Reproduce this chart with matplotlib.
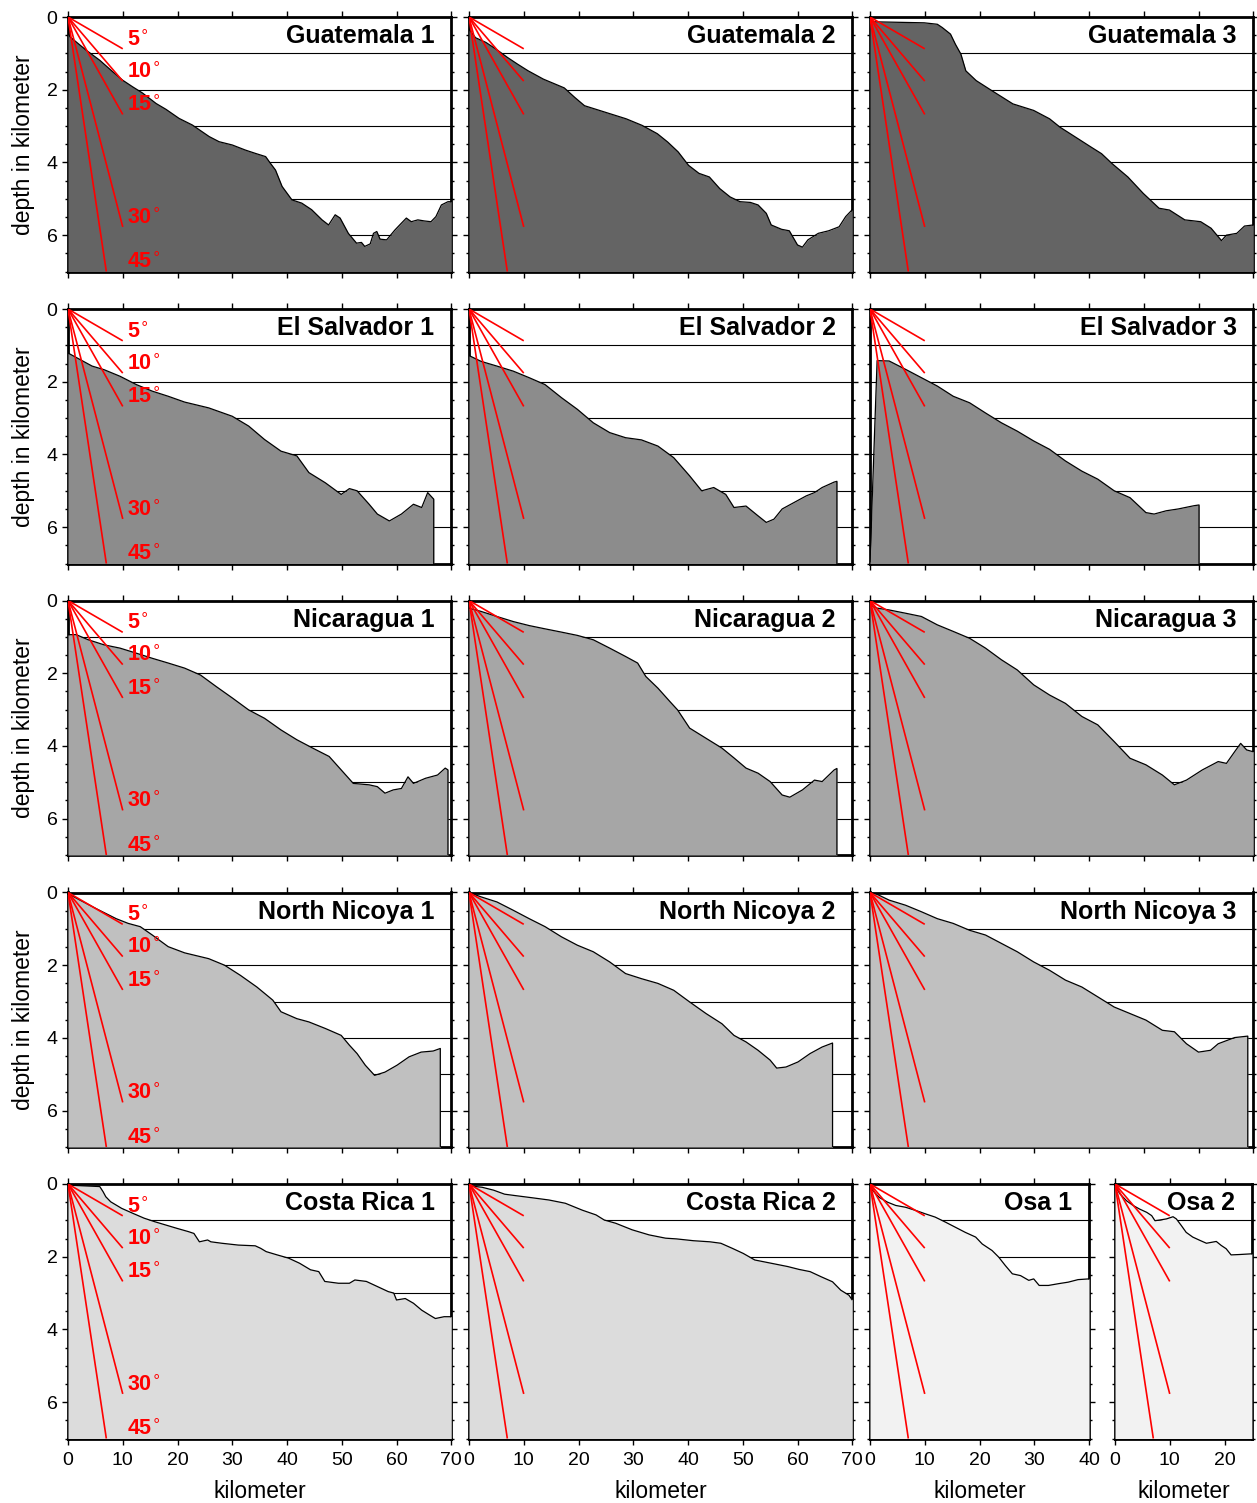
import matplotlib
matplotlib.use("Agg")
import matplotlib.pyplot as plt
from matplotlib.ticker import MultipleLocator
import numpy as np

plt.rcParams['font.family'] = ['Liberation Sans', 'DejaVu Sans']

# profile data: distance along profile [km] and depth [km]
gua1_x = [0, 0.4, 3.3, 5.8, 8.2, 10, 11.8, 13.6, 16.1, 17.9, 20.3, 22.7, 25.8, 27.6, 30, 32.4, 34.2, 36.1, 37, 37.9,
          39.1, 40.9, 42.7, 44.5, 46.4, 47.6, 48.8, 49.7, 51.2, 52.7, 53.6, 54.2, 55.2, 55.8, 56.4, 57, 58.2, 59.7,
          60.9, 61.8, 62.7, 63.9, 65.1, 66.3, 67.2, 68.2, 69.4, 70]
gua1_d = [0.45, 0.55, 0.91, 1.19, 1.51, 1.74, 1.92, 2.09, 2.38, 2.54, 2.79, 2.97, 3.29, 3.43, 3.52, 3.66, 3.75, 3.84,
          4.03, 4.21, 4.66, 5.03, 5.12, 5.3, 5.58, 5.72, 5.44, 5.53, 5.95, 6.22, 6.2, 6.31, 6.24, 5.95, 5.9, 6.11,
          6.13, 5.86, 5.67, 5.53, 5.63, 5.58, 5.61, 5.63, 5.49, 5.17, 5.08, 5.08]

gua2_x = [0, 1.2, 3.1, 5.0, 7.0, 8.9, 10.8, 13.6, 17.4, 19.3, 21.1, 24.9, 28.7, 31.6, 34.4, 36.3, 38.2, 40.1, 42, 43.9,
          45.8, 47.7, 49.5, 51.4, 52.8, 54.3, 55.2, 57.1, 58.5, 60, 60.9, 61.9, 63.8, 65.7, 67.6, 68.8, 70]
gua2_d = [0.34, 0.57, 0.7, 0.89, 1.11, 1.3, 1.48, 1.71, 1.95, 2.21, 2.44, 2.62, 2.8, 2.98, 3.21, 3.44, 3.71, 4.08, 4.3,
          4.4, 4.72, 4.95, 5.08, 5.1, 5.17, 5.4, 5.72, 5.84, 5.88, 6.27, 6.33, 6.13, 5.95, 5.88, 5.77, 5.49, 5.3]

gua3_x = [0, 9.9, 12.3, 13.2, 14.7, 15.6, 16.6, 17.5, 19.4, 22.3, 24.2, 26.1, 29.9, 32.8, 34.7, 37.5, 40.4, 42.3,
          44.2, 47.1, 49.9, 52.8, 54.7, 57.5, 60.4, 62.3, 64.2, 65.1, 67, 68.4, 70]
gua3_d = [0.13, 0.16, 0.2, 0.29, 0.47, 0.75, 1.02, 1.48, 1.75, 2.03, 2.21, 2.39, 2.57, 2.8, 3.03, 3.3, 3.58, 3.76,
          4.03, 4.4, 4.85, 5.26, 5.31, 5.58, 5.63, 5.81, 6.15, 6.0, 5.95, 5.75, 5.72]

sal1_x = [0, 2.2, 4.4, 6.6, 9.5, 12.5, 15.4, 18.3, 21.3, 25.7, 30, 33, 35.9, 38.9, 41.8, 44, 47, 49.9, 51.4, 52.8,
          55, 56.5, 58.7, 60.9, 63.1, 64.6, 65.7, 66.8]
sal1_d = [1.21, 1.39, 1.57, 1.67, 1.85, 2.08, 2.26, 2.4, 2.56, 2.72, 2.95, 3.22, 3.59, 3.91, 4.04, 4.5, 4.78, 5.1,
          4.94, 5.0, 5.37, 5.64, 5.83, 5.64, 5.37, 5.46, 5.05, 5.23]

sal2_x = [0, 2.2, 5.1, 8.1, 11, 13.9, 16.9, 19.8, 22.7, 25.7, 28.6, 31.5, 34.5, 37.4, 40.3, 42.5, 44.7, 46.9, 48.4,
          50.6, 52.8, 54.3, 55.7, 57.2, 59.4, 61.6, 63.1, 64.5, 66.7, 67.2]
sal2_d = [1.28, 1.44, 1.57, 1.71, 1.89, 2.08, 2.44, 2.76, 3.13, 3.4, 3.54, 3.6, 3.77, 4.09, 4.59, 5.0, 4.91, 5.1,
          5.46, 5.42, 5.69, 5.87, 5.78, 5.5, 5.32, 5.14, 5.05, 4.91, 4.76, 4.74]

sal3_x = [0, 1.3, 3.5, 6.5, 9.4, 12.3, 15.2, 18.2, 21.1, 24, 26.9, 29.9, 32.8, 35.7, 38.7, 41.6, 44.6, 47.5, 50.4,
          51.9, 54.1, 56.3, 59.2, 60.1]
sal3_d = [6.95, 1.42, 1.43, 1.66, 1.89, 2.12, 2.4, 2.58, 2.86, 3.13, 3.36, 3.63, 3.86, 4.18, 4.46, 4.68, 5.0, 5.19,
          5.6, 5.64, 5.55, 5.5, 5.41, 5.39]

nic1_x = [0, 1.5, 3.7, 6.6, 9.5, 12.5, 15.4, 18.3, 21.3, 24.2, 27.1, 30.1, 33, 35.9, 38.9, 41.8, 44.7, 47.7, 49.9,
          52.1, 55, 56.5, 57.9, 59.4, 60.9, 62.1, 63.1, 65.3, 67.5, 68.9, 69.4]
nic1_d = [0.94, 0.94, 1.08, 1.22, 1.31, 1.45, 1.59, 1.72, 1.86, 2.05, 2.37, 2.69, 3.01, 3.24, 3.56, 3.83, 4.06, 4.29,
          4.66, 5.03, 5.07, 5.12, 5.3, 5.21, 5.17, 4.85, 5.03, 4.89, 4.8, 4.61, 4.66]

nic2_x = [0, 2.2, 5.1, 8.1, 11, 13.9, 16.9, 19.8, 22.7, 25.7, 28.6, 30.8, 32.3, 34.5, 36.7, 38.1, 40.3, 43.3, 46.2,
          48.4, 50.6, 52.8, 55, 57.2, 58.6, 60.9, 63.1, 64.5, 66.7, 67.2]
nic2_d = [0.21, 0.3, 0.44, 0.58, 0.69, 0.78, 0.87, 0.96, 1.08, 1.31, 1.54, 1.72, 2.09, 2.41, 2.78, 3.01, 3.51, 3.79,
          4.06, 4.33, 4.61, 4.75, 4.98, 5.35, 5.41, 5.21, 4.94, 4.98, 4.66, 4.62]

nic3_x = [0, 1.3, 3.5, 6.5, 9.4, 12.3, 15.2, 18.2, 21.1, 24, 26.9, 29.9, 32.8, 35.7, 38.7, 41.6, 44.6, 47.5, 50.4,
          53.4, 55.6, 57.8, 60.7, 63.6, 65.1, 66.6, 67.7, 68.8, 70]
nic3_d = [0.12, 0.21, 0.26, 0.35, 0.44, 0.67, 0.85, 1.04, 1.31, 1.63, 1.91, 2.32, 2.6, 2.83, 3.19, 3.42, 3.88, 4.34,
          4.52, 4.8, 5.07, 4.94, 4.66, 4.43, 4.48, 4.16, 3.93, 4.11, 4.16]

nn1_x = [0, 2.2, 5.1, 8.8, 11, 13.2, 15.4, 18.3, 21.3, 25.7, 28.6, 31.5, 34.5, 37.4, 38.9, 41.8, 44, 47, 49.9, 51.4,
         52.8, 54.3, 56, 57.9, 60.1, 62.3, 64.5, 66.7, 68]
nn1_d = [0.03, 0.21, 0.44, 0.72, 0.85, 0.94, 1.17, 1.49, 1.66, 1.82, 2.0, 2.28, 2.6, 2.96, 3.28, 3.47, 3.56, 3.74,
         3.93, 4.2, 4.43, 4.75, 5.03, 4.94, 4.75, 4.52, 4.39, 4.36, 4.29]

nn2_x = [0, 2.2, 5.1, 8.1, 11, 13.9, 16.9, 19.8, 22.7, 25.7, 28.6, 31.5, 34.5, 37.4, 40.3, 43.3, 46.2, 48.4, 50.6,
         52.8, 55, 56.2, 57.9, 60.1, 62.3, 64.5, 66.4]
nn2_d = [0, 0.12, 0.26, 0.49, 0.72, 0.94, 1.22, 1.45, 1.63, 1.91, 2.23, 2.37, 2.5, 2.69, 3.01, 3.33, 3.61, 3.93, 4.11,
         4.34, 4.61, 4.83, 4.8, 4.66, 4.43, 4.25, 4.14]

nn3_x = [0, 1.3, 3.5, 6.5, 9.4, 12.3, 15.2, 18.2, 21.1, 24, 26.9, 29.9, 32.8, 35.7, 38.7, 41.6, 44.6, 47.5, 50.4,
         53.4, 55.6, 57.8, 60, 62.2, 63.6, 66.6, 69]
nn3_d = [0, 0.05, 0.21, 0.35, 0.53, 0.72, 0.85, 1.04, 1.17, 1.4, 1.63, 1.91, 2.14, 2.41, 2.6, 2.87, 3.15, 3.33, 3.51,
         3.79, 3.83, 4.16, 4.39, 4.34, 4.16, 3.99, 3.95]

cr1_x = [0, 2.7, 5.8, 6.4, 6.9, 7.8, 9.8, 11.9, 13.9, 15.9, 17.9, 19.9, 22, 23, 24, 25.5, 26.1, 28.1, 31.1, 34.2,
         35.2, 36.2, 38.2, 40.3, 42.3, 44.3, 45.8, 46.9, 49.4, 51.4, 52.4, 54.5, 56.5, 58.5, 59.5, 60, 61.6, 63.1,
         64.6, 66.1, 67.1, 68.7, 70]
cr1_d = [0.03, 0.05, 0.07, 0.21, 0.35, 0.49, 0.67, 0.81, 0.94, 1.04, 1.13, 1.22, 1.31, 1.36, 1.59, 1.54, 1.59, 1.63,
         1.68, 1.7, 1.77, 1.86, 1.95, 2.04, 2.18, 2.36, 2.41, 2.68, 2.73, 2.73, 2.64, 2.68, 2.82, 2.96, 3.0, 3.19,
         3.15, 3.28, 3.47, 3.61, 3.7, 3.65, 3.65]

cr2_x = [0, 2.4, 4.5, 6.5, 8.5, 11.6, 14.6, 17.6, 20.7, 23.2, 24.7, 26.8, 29.8, 32.9, 35.9, 37.9, 41, 44, 46, 48.1,
         50.1, 52.2, 55.2, 58.2, 60.3, 62.3, 64.3, 66.4, 67.9, 69.4, 70]
cr2_d = [0.05, 0.09, 0.17, 0.28, 0.32, 0.38, 0.44, 0.53, 0.72, 0.85, 0.99, 1.08, 1.26, 1.4, 1.49, 1.51, 1.56, 1.59,
         1.63, 1.77, 1.91, 2.09, 2.18, 2.27, 2.35, 2.41, 2.55, 2.69, 2.92, 3.06, 3.19]

osa1_x = [0, 0.5, 1.7, 3.2, 4.7, 6.5, 8.4, 10.1, 11.9, 13.8, 15.6, 17.4, 19.3, 20.5, 22.3, 23.5, 24.7, 26, 27.5, 29,
          29.9, 30.9, 32.6, 34.5, 36.2, 38, 40]
osa1_d = [0.05, 0.18, 0.37, 0.5, 0.59, 0.64, 0.73, 0.82, 0.91, 1.05, 1.19, 1.33, 1.46, 1.65, 1.83, 2.01, 2.24, 2.47,
          2.52, 2.65, 2.61, 2.79, 2.79, 2.74, 2.7, 2.63, 2.61]

osa2_x = [0, 0.9, 2.1, 3.3, 4.5, 5.8, 6.7, 7.3, 8.2, 9.4, 10.6, 11.2, 12.1, 13, 14.2, 15.5, 16.7, 18.5, 19.4, 20.3,
          21.2, 22.7, 25]
osa2_d = [0.05, 0.27, 0.46, 0.59, 0.69, 0.78, 0.87, 1.01, 0.99, 0.96, 0.9, 0.96, 1.14, 1.33, 1.46, 1.55, 1.63, 1.58,
          1.69, 1.78, 1.95, 1.94, 1.92]

slope_angles = [5, 10, 15, 30, 45]
grid_depths = [1, 2, 3, 4, 5, 6]
max_depth = 7

# one grey per region (row)
row_greys = ['#646464', '#8c8c8c', '#a6a6a6', '#c0c0c0', '#dcdcdc', '#f2f2f2']

# title, x, depth, x range, row, grey index
panels = [
    ('Guatemala 1', gua1_x, gua1_d, 70, 0, 0),
    ('Guatemala 2', gua2_x, gua2_d, 70, 0, 0),
    ('Guatemala 3', gua3_x, gua3_d, 70, 0, 0),
    ('El Salvador 1', sal1_x, sal1_d, 70, 1, 1),
    ('El Salvador 2', sal2_x, sal2_d, 70, 1, 1),
    ('El Salvador 3', sal3_x, sal3_d, 70, 1, 1),
    ('Nicaragua 1', nic1_x, nic1_d, 70, 2, 2),
    ('Nicaragua 2', nic2_x, nic2_d, 70, 2, 2),
    ('Nicaragua 3', nic3_x, nic3_d, 70, 2, 2),
    ('North Nicoya 1', nn1_x, nn1_d, 70, 3, 3),
    ('North Nicoya 2', nn2_x, nn2_d, 70, 3, 3),
    ('North Nicoya 3', nn3_x, nn3_d, 70, 3, 3),
    ('Costa Rica 1', cr1_x, cr1_d, 70, 4, 4),
    ('Costa Rica 2', cr2_x, cr2_d, 70, 4, 4),
    ('Osa 1', osa1_x, osa1_d, 40, 4, 5),
    ('Osa 2', osa2_x, osa2_d, 25, 4, 5),
]

W, H = 1257, 1503
KM_PX = 5.475           # horizontal pixels per km
ROW_TOP = [17, 309, 600.5, 892.5, 1184]
ROW_H = 254.5
COL_LEFT = [68, 469, 870, 1115]


def draw_panel(fig, left, top, title, x, d, xmax, grey, first_col, bottom_row, ylab):
    ax = fig.add_axes([left / W, 1 - (top + ROW_H) / H, xmax * KM_PX / W, ROW_H / H])
    ax.set_xlim(0, xmax)
    ax.set_ylim(max_depth, 0)
    for g in grid_depths:
        ax.axhline(g, color='black', lw=0.8, zorder=1)
    px = list(x)
    pd = list(d)
    # profile ends before the frame: close with a vertical drop
    if px[-1] < xmax:
        px.append(px[-1])
        pd.append(max_depth)
    ax.fill_between(px, pd, max_depth, color=grey, lw=0, zorder=3)
    ax.plot(px, pd, color='black', lw=0.9, zorder=4)
    # reference slopes
    for a in slope_angles:
        t = np.tan(np.radians(a))
        ex = min(10, max_depth / t)
        ax.plot([0, ex], [0, ex * t], color='red', lw=1.2, zorder=5, solid_capstyle='butt')
        if first_col:
            ax.text(10.8, ex * t - 0.24, str(a) + r'$^{\circ}$', color='red', fontsize=15.5,
                    fontweight='bold', ha='left', va='center', zorder=6)
    ax.annotate(title, xy=(1, 1), xycoords='axes fraction', xytext=(-12, -14),
                textcoords='offset points', ha='right', va='center',
                fontsize=18, fontweight='bold', zorder=7)
    for s in ax.spines.values():
        s.set_linewidth(2)
    ax.xaxis.set_major_locator(MultipleLocator(10))
    ax.yaxis.set_major_locator(MultipleLocator(2))
    ax.yaxis.set_minor_locator(MultipleLocator(0.5))
    ax.tick_params(which='both', direction='out', top=True, right=True, width=1,
                   labelsize=14, pad=3, labelbottom=bottom_row, labelleft=first_col)
    ax.tick_params(which='major', length=4.5)
    ax.tick_params(which='minor', length=2.5)
    ax.tick_params(axis='x', pad=5)
    if ylab:
        ax.set_ylabel('depth in kilometer', fontsize=16.5, labelpad=8)
    if bottom_row:
        ax.set_xlabel('kilometer', fontsize=16.5, labelpad=8)
    return ax


fig = plt.figure(figsize=(W / 100, H / 100), dpi=100)
col_count = {}
for title, x, d, xmax, row, gi in panels:
    col = col_count.get(row, 0)
    col_count[row] = col + 1
    draw_panel(fig, COL_LEFT[col], ROW_TOP[row], title, x, d, xmax, row_greys[gi],
               first_col=(col == 0), bottom_row=(row == 4), ylab=(col == 0 and row < 4))

fig.savefig('out.png', dpi=100)
